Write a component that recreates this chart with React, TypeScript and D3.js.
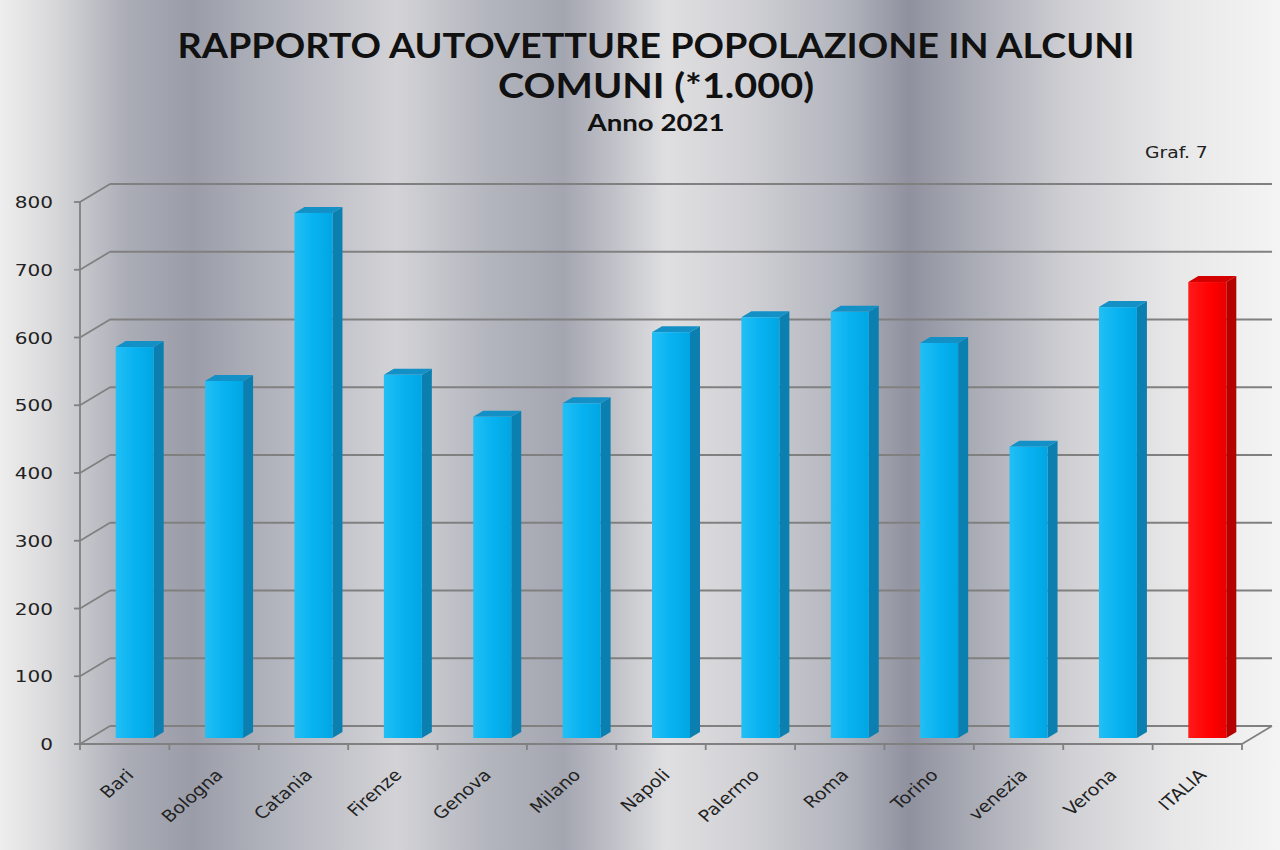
import React from 'react';
import * as d3 from 'd3';

const categories = ['Bari', 'Bologna', 'Catania', 'Firenze', 'Genova', 'Milano', 'Napoli', 'Palermo', 'Roma', 'Torino', 'venezia', 'Verona', 'ITALIA'];
const values = [577, 527, 775, 536, 474, 494, 599, 621, 629, 583, 430, 636, 673];
const yTicks = [0, 100, 200, 300, 400, 500, 600, 700, 800];

const W = 1280;
const H = 850;
const DX = 30; // depth shift of the back wall
const DY = 18;
const BAR_W = 38;

// metallic background bands
const bgStops: [number, string][] = [
  [0, '#eeeeee'], [0.04, '#d9d9db'], [0.1, '#aaacb6'], [0.15, '#9a9ca8'], [0.22, '#b4b6bf'],
  [0.31, '#d3d3d7'], [0.38, '#b4b6be'], [0.44, '#a3a5b0'], [0.52, '#dfdfe1'], [0.58, '#d2d2d6'],
  [0.66, '#b2b4bd'], [0.71, '#8f919f'], [0.76, '#a9abb5'], [0.84, '#d2d2d6'], [0.92, '#e8e8e9'], [1, '#f4f4f4'],
];

const App = () => {
  const x = d3.scaleBand<string>().domain(categories).range([80, 1242]).padding(0);
  const y = d3.scaleLinear().domain([0, 800]).range([744, 202]);
  const bw = x.bandwidth();
  const dz = DX / 3;
  const dzy = DY / 3;

  return (
    <svg width={W} height={H} style={{ position: 'absolute', left: 0, top: 0 }}>
      <defs>
        <linearGradient id="bg" x1="0" x2="1" y1="0" y2="0">
          {bgStops.map(([o, c], i) => <stop key={i} offset={o} stopColor={c} />)}
        </linearGradient>
        <linearGradient id="blueFront" x1="0" x2="1" y1="0" y2="0">
          <stop offset="0" stopColor="#22bff5" />
          <stop offset="0.5" stopColor="#08b2f0" />
          <stop offset="1" stopColor="#00a6e4" />
        </linearGradient>
        <linearGradient id="redFront" x1="0" x2="1" y1="0" y2="0">
          <stop offset="0" stopColor="#ff1a1a" />
          <stop offset="0.6" stopColor="#ff0000" />
          <stop offset="1" stopColor="#e80000" />
        </linearGradient>
      </defs>
      <rect x={0} y={0} width={W} height={H} fill="url(#bg)" />

      {/* walls: back gridlines and left side wall */}
      <g stroke="#808080" strokeWidth={1.8} fill="none">
        {yTicks.map(t => (
          <g key={t}>
            <line x1={80} y1={y(t)} x2={80 + DX} y2={y(t) - DY} />
            <line x1={80 + DX} y1={y(t) - DY} x2={1242 + DX} y2={y(t) - DY} />
            <line x1={74} y1={y(t)} x2={80} y2={y(t)} />
          </g>
        ))}
        <line x1={80} y1={y(0)} x2={80} y2={y(800)} />
        <line x1={80} y1={y(0)} x2={1242} y2={y(0)} />
        <line x1={1242} y1={y(0)} x2={1242 + DX} y2={y(0) - DY} />
        {categories.map(c => (
          <line key={c} x1={x(c)!} y1={y(0)} x2={x(c)!} y2={y(0) + 6} />
        ))}
        <line x1={1242} y1={y(0)} x2={1242} y2={y(0) + 6} />
      </g>

      {/* 3D bars */}
      {categories.map((c, i) => {
        const red = c === 'ITALIA';
        const xc = x(c)! + bw / 2;
        const l = xc - BAR_W / 2 + dz;
        const r = l + BAR_W;
        const top = y(values[i]) - dzy;
        const bot = y(0) - dzy;
        return (
          <g key={c}>
            <polygon
              points={`${r},${top} ${r + dz},${top - dzy} ${r + dz},${bot - dzy} ${r},${bot}`}
              fill={red ? '#b50000' : '#0a7fb0'}
            />
            <polygon
              points={`${l},${top} ${l + dz},${top - dzy} ${r + dz},${top - dzy} ${r},${top}`}
              fill={red ? '#d40000' : '#1390c6'}
            />
            <rect x={l} y={top} width={BAR_W} height={bot - top} fill={red ? 'url(#redFront)' : 'url(#blueFront)'} />
          </g>
        );
      })}

      {/* y tick labels */}
      <g fontFamily="DejaVu Sans" fontSize={16} fill="#222">
        {yTicks.map(t => (
          <text key={t} textAnchor="end" transform={`translate(53,${y(t) + 6}) scale(1.25,1)`}>{t}</text>
        ))}
      </g>

      {/* category labels */}
      <g fontFamily="DejaVu Sans" fontSize={16.5} fill="#222">
        {categories.map(c => (
          <text key={c} textAnchor="end" transform={`translate(${x(c)! + bw / 2 + 10},776) scale(1.15,1) rotate(-45)`}>{c}</text>
        ))}
      </g>

      {/* titles */}
      <g fontFamily="Lato" fontWeight="bold" fill="#111" textAnchor="middle">
        <text x={656} y={58} fontSize={35} textLength={957} lengthAdjust="spacingAndGlyphs">RAPPORTO AUTOVETTURE POPOLAZIONE IN ALCUNI</text>
        <text x={656} y={98} fontSize={35} textLength={316} lengthAdjust="spacingAndGlyphs">COMUNI (*1.000)</text>
        <text x={656} y={131} fontSize={23} textLength={137} lengthAdjust="spacingAndGlyphs">Anno 2021</text>
      </g>
      <text fontFamily="DejaVu Sans" fontSize={15} fill="#222" transform="translate(1145,158) scale(1.25,1)">Graf. 7</text>
    </svg>
  );
};

export default App;
